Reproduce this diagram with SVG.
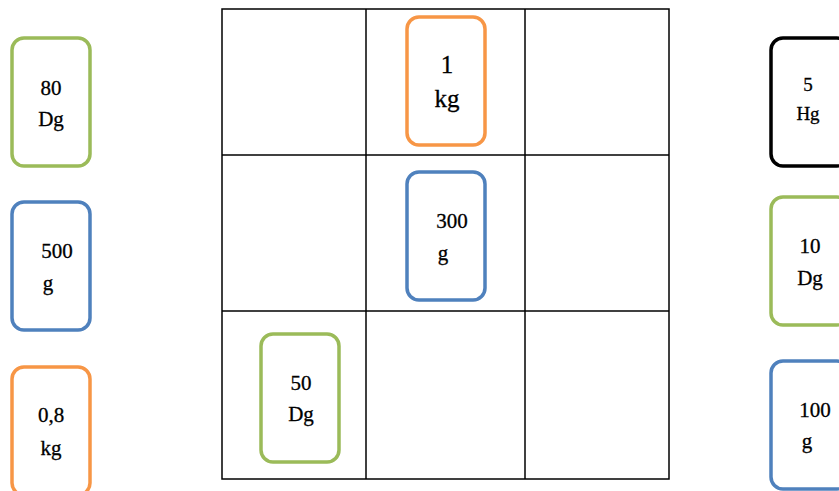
<svg xmlns="http://www.w3.org/2000/svg" width="839" height="491" viewBox="0 0 839 491">
<style>
.box{fill:#fff;stroke-width:3.5}
.g{stroke:#9BBB59}.b{stroke:#4F81BD}.o{stroke:#F79646}.k{stroke:#000}
.grid{stroke:#000;stroke-width:1.5;fill:none}
text{font-family:'Liberation Serif','DejaVu Serif',serif;font-size:21px;fill:#000;text-anchor:middle;stroke:#000;stroke-width:0.3}
.big{font-size:25px}
.sm{font-size:19px}
</style>
<rect width="839" height="491" fill="#fff"/>
<g id="grid" class="grid">
<rect x="222" y="9" width="447" height="470"/>
<line x1="366" y1="9" x2="366" y2="479"/>
<line x1="525" y1="9" x2="525" y2="479"/>
<line x1="222" y1="155" x2="669" y2="155"/>
<line x1="222" y1="311" x2="669" y2="311"/>
</g>
<g id="n80dg"><rect class="box g" x="12" y="38" width="78" height="128" rx="12"/><text x="51" y="95">80</text><text x="51" y="126">Dg</text></g>
<g id="n500g"><rect class="box b" x="12" y="202" width="78" height="128" rx="12"/><text x="57" y="258">500</text><text x="48" y="290">g</text></g>
<g id="n08kg"><rect class="box o" x="12" y="367" width="78" height="128" rx="12"/><text x="51" y="422">0,8</text><text x="51" y="455">kg</text></g>
<g id="n1kg"><rect class="box o" x="407" y="17" width="78" height="128" rx="12"/><text class="big" x="447" y="73">1</text><text class="big" x="447" y="107">kg</text></g>
<g id="n300g"><rect class="box b" x="407" y="172" width="78" height="128" rx="12"/><text x="452" y="228">300</text><text x="443" y="260">g</text></g>
<g id="n50dg"><rect class="box g" x="261" y="334" width="78" height="128" rx="12"/><text x="301" y="390">50</text><text x="301" y="421">Dg</text></g>
<g id="n5hg"><rect class="box k" x="771" y="38" width="78" height="128" rx="12"/><text class="sm" x="808" y="91">5</text><text class="sm" x="808" y="120">Hg</text></g>
<g id="n10dg"><rect class="box g" x="771" y="197" width="78" height="128" rx="12"/><text x="810" y="253">10</text><text x="810" y="285">Dg</text></g>
<g id="n100g"><rect class="box b" x="771" y="361" width="78" height="128" rx="12"/><text x="815" y="417">100</text><text x="807" y="448">g</text></g>
</svg>
